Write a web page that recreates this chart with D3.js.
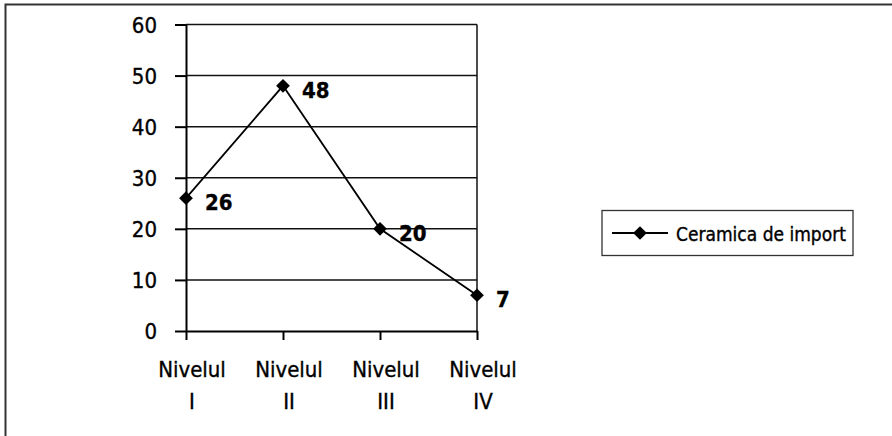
<!DOCTYPE html>
<html>
<head>
<meta charset="utf-8">
<script src="https://cdn.jsdelivr.net/npm/d3@7"></script>
<style>
  body { margin: 0; background: #fff; }
  svg text { font-family: "Liberation Sans Narrow", "DejaVu Sans Condensed", sans-serif; stroke: #000; stroke-width: 0.35px; }
</style>
</head>
<body>
<div id="chart"></div>
<script>
// data
var categories = ["Nivelul I", "Nivelul II", "Nivelul III", "Nivelul IV"];
var values = [26, 48, 20, 7];
var yTicks = [0, 10, 20, 30, 40, 50, 60];
var seriesName = "Ceramica de import";

var W = 892, H = 436;
var margin = { top: 24.5, left: 186 },
    width = 291,
    height = 306.5;

var svg = d3.select("#chart")
    .append("svg")
    .attr("width", W)
    .attr("height", H);

// outer frame (right/bottom edges fall off the picture)
svg.append("rect")
    .attr("x", 5.5).attr("y", 4.5)
    .attr("width", W + 10).attr("height", H + 10)
    .attr("fill", "none")
    .attr("stroke", "#333")
    .attr("stroke-width", 2);

var g = svg.append("g")
    .attr("transform", "translate(" + margin.left + "," + margin.top + ")");

var x = d3.scalePoint()
    .domain(categories)
    .range([0, width]);

var y = d3.scaleLinear()
    .domain([0, 60])
    .range([height, 0]);

// gridlines
g.selectAll("line.grid")
    .data(yTicks.filter(function (d) { return d > 0; }))
    .enter()
    .append("line")
    .attr("class", "grid")
    .attr("x1", 0).attr("x2", width)
    .attr("y1", function (d) { return y(d); })
    .attr("y2", function (d) { return y(d); })
    .attr("stroke", "#111")
    .attr("stroke-width", 1.5);

// right edge of plot area
g.append("line")
    .attr("x1", width).attr("x2", width)
    .attr("y1", 0).attr("y2", height)
    .attr("stroke", "#111")
    .attr("stroke-width", 1.5);

// Y axis
var yAxis = g.append("g")
    .call(d3.axisLeft(y).tickValues(yTicks).tickSize(11).tickPadding(18).tickSizeOuter(0));
yAxis.attr("font-family", null);
yAxis.select(".domain").attr("stroke", "#000").attr("stroke-width", 2);
yAxis.selectAll(".tick line").attr("stroke", "#000").attr("stroke-width", 2);
yAxis.selectAll("text")
    .attr("fill", "#000")
    .attr("dy", "0.36em")
    .style("font-size", "22px");

// X axis
var xAxis = g.append("g")
    .attr("transform", "translate(0," + height + ")")
    .call(d3.axisBottom(x).tickSize(9).tickSizeOuter(0).tickFormat(""));
xAxis.select(".domain").attr("stroke", "#000").attr("stroke-width", 2);
xAxis.selectAll(".tick line").attr("stroke", "#000").attr("stroke-width", 2);

// category labels on two lines
var catLabels = g.append("g").selectAll("text")
    .data(categories)
    .enter()
    .append("text")
    .attr("text-anchor", "middle")
    .attr("transform", function (d) { return "translate(" + (x(d) + 6) + "," + (height + 46) + ")"; })
    .style("font-size", "22px")
    .attr("fill", "#000");
catLabels.append("tspan")
    .attr("x", 0).attr("y", 0)
    .text(function (d) { return d.split(" ")[0]; });
catLabels.append("tspan")
    .attr("x", 0).attr("y", 31.5)
    .text(function (d) { return d.split(" ")[1]; });

// line
var pts = categories.map(function (c, i) { return { c: c, v: values[i] }; });
g.append("path")
    .datum(pts)
    .attr("fill", "none")
    .attr("stroke", "#000")
    .attr("stroke-width", 1.8)
    .attr("d", d3.line()
        .x(function (d) { return x(d.c); })
        .y(function (d) { return y(d.v); }));

var diamond = d3.symbol().type(d3.symbolDiamond2).size(120);
g.selectAll("path.marker")
    .data(pts)
    .enter()
    .append("path")
    .attr("class", "marker")
    .attr("d", diamond)
    .attr("transform", function (d) { return "translate(" + x(d.c) + "," + y(d.v) + ")"; })
    .attr("fill", "#000");

// data labels
g.selectAll("text.val")
    .data(pts)
    .enter()
    .append("text")
    .attr("class", "val")
    .attr("x", function (d) { return x(d.c) + 19; })
    .attr("y", function (d) { return y(d.v) + 12; })
    .style("font-size", "22px")
    .style("font-weight", "bold")
    .attr("fill", "#000")
    .text(function (d) { return d.v; });

// legend
var lg = svg.append("g").attr("transform", "translate(602,210.5)");
lg.append("rect")
    .attr("width", 251).attr("height", 45)
    .attr("fill", "#fff")
    .attr("stroke", "#333")
    .attr("stroke-width", 1.3);
lg.append("line")
    .attr("x1", 10).attr("x2", 66)
    .attr("y1", 22.5).attr("y2", 22.5)
    .attr("stroke", "#000")
    .attr("stroke-width", 1.8);
lg.append("path")
    .attr("d", diamond)
    .attr("transform", "translate(38,22.5)")
    .attr("fill", "#000");
lg.append("text")
    .attr("x", 74).attr("y", 30)
    .style("font-size", "19px")
    .attr("fill", "#000")
    .text(seriesName);
</script>
</body>
</html>
